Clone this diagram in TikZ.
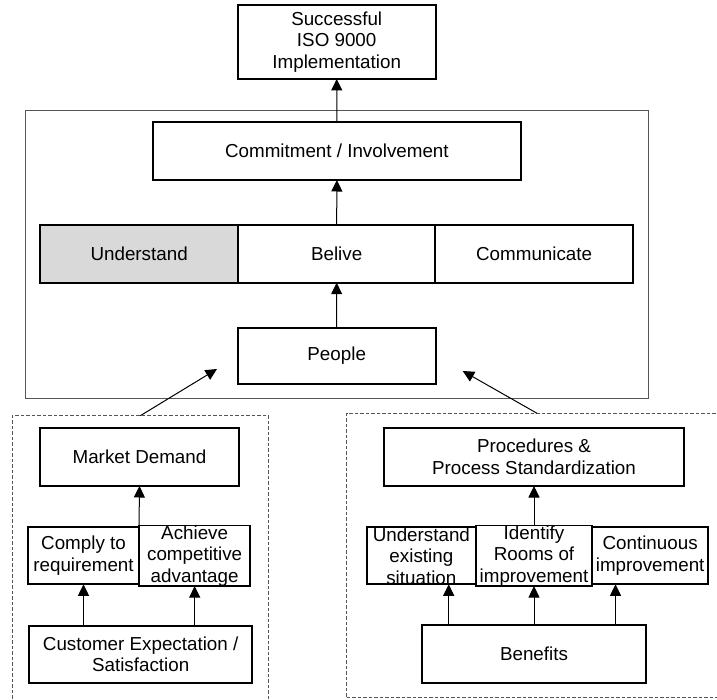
\documentclass[tikz,border=0pt]{standalone}
\usepackage{fontspec}
\setmainfont{Liberation Sans}
\usetikzlibrary{arrows.meta}
\definecolor{shade}{HTML}{D9D9D9}
\definecolor{framegray}{HTML}{555555}
\begin{document}
\begin{tikzpicture}[x=1pt,y=-1pt,
  every node/.style={inner sep=0pt,outer sep=0pt,anchor=center,
    font=\fontsize{18.8}{21.5}\selectfont,align=center},
  box/.style={draw=black,line width=1.8pt,fill=white},
  frame/.style={draw=framegray,line width=0.9pt},
  group/.style={draw=framegray,line width=0.8pt,dash pattern=on 3.5pt off 2pt},
  link/.style={line width=1pt,-{Triangle[length=11.5pt,width=11pt]}}]
\useasboundingbox (0,0) rectangle (717,700);
\clip (0,0) rectangle (717,700);

% containers
\node[frame,minimum width=622.6pt,minimum height=287.7pt] (core) at (337,254.15) {};
\node[group,minimum width=256.7pt,minimum height=296.3pt] (market) at (140.35,563.85) {};
\node[group,minimum width=380.6pt,minimum height=284.4pt] (process) at (537,555.5) {};

% central column
\node[box,minimum width=198pt,minimum height=74.3pt] (goal) at (336.7,41.8)
  {Successful\\ISO 9000\\Implementation};
\node[box,minimum width=367.7pt,minimum height=58pt] (commit) at (336.9,151)
  {Commitment / Involvement};
\node[box,fill=shade,minimum width=197.7pt,minimum height=57.7pt] (understand) at (139.15,253.85)
  {Understand};
\node[box,minimum width=197.3pt,minimum height=57.7pt] (belive) at (336.65,253.85)
  {Belive};
\node[box,minimum width=197.7pt,minimum height=57.7pt] (communicate) at (534.15,253.85)
  {Communicate};
\node[box,minimum width=198pt,minimum height=56pt] (people) at (336.7,356)
  {People};

% market side
\node[box,minimum width=198.4pt,minimum height=58pt] (demand) at (139.5,457)
  {Market Demand};
\node[box,minimum width=111pt,minimum height=57pt] (comply) at (83.5,555.8)
  {Comply to\\requirement};
\node[box,minimum width=111.3pt,minimum height=57pt] (achieve) at (194.65,555.8)
  {Achieve\\competitive\\advantage};
\node[box,minimum width=223.3pt,minimum height=57.6pt] (customer) at (140.65,654.5)
  {Customer Expectation /\\Satisfaction};

% process side
\node[box,minimum width=300pt,minimum height=58pt] (procedures) at (534,457)
  {Procedures \&\\Process Standardization};
\node[box,minimum width=109.3pt,minimum height=57pt] (existing) at (421.35,555.8)
  {Understand\\existing\\situation};
\node[box,minimum width=116pt,minimum height=57pt] (rooms) at (534,555.8)
  {Identify\\Rooms of\\improvement};
\node[box,minimum width=116.3pt,minimum height=57pt] (continuous) at (650.15,555.8)
  {Continuous\\improvement};
\node[box,minimum width=224pt,minimum height=58.3pt] (benefits) at (534,654.15)
  {Benefits};

% free ends of the slanted arrows
\coordinate (leftend) at (217,369);
\coordinate (rightend) at (462.7,371);

% feet of the arrows leaving Benefits
\coordinate (bleft) at ([xshift=-85.3pt]benefits.north);
\coordinate (bright) at ([xshift=81.5pt]benefits.north);

% connectors
\draw[link] (commit.north) -- (goal.south);
\draw[link] (belive.north) -- (commit.south);
\draw[link] (people.north) -- (belive.south);
\draw[link] (market.north) -- (leftend);
\draw[link] (process.north) -- (rightend);
\draw[link] (comply.north east) -- (demand.south);
\draw[link] (customer.north -| comply.center) -- (comply.south);
\draw[link] (customer.north -| achieve.center) -- (achieve.south);
\draw[link] (rooms.north) -- (procedures.south);
\draw[link] (bleft) -- (bleft |- existing.south);
\draw[link] (benefits.north) -- (rooms.south);
\draw[link] (bright) -- (bright |- continuous.south);
\end{tikzpicture}
\end{document}
